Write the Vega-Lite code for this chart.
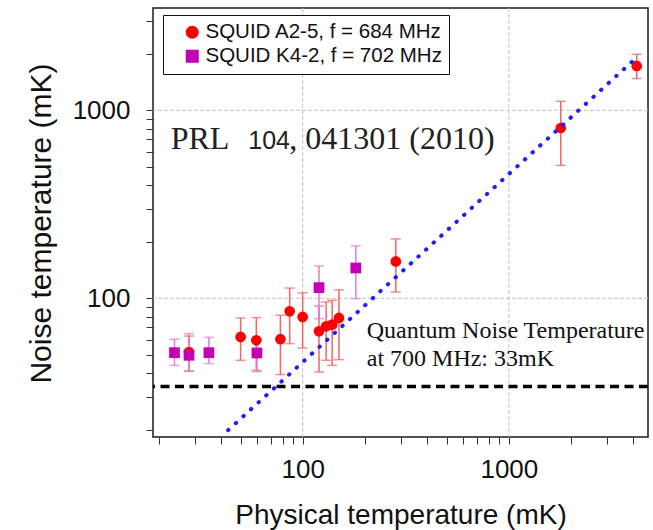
{
  "$schema": "https://vega.github.io/schema/vega-lite/v6.json",
  "width": 495,
  "height": 429,
  "autosize": {"type": "none"},
  "padding": {"left": 153, "top": 8, "right": 5, "bottom": 93},
  "background": "white",
  "config": {
    "view": {"stroke": "#1a1a1a", "strokeWidth": 1.5},
    "font": "Liberation Sans"
  },
  "datasets": {
    "pts": [
      {"series": "SQUID A2-5, f = 684 MHz", "x": 28.1, "y": 51.8, "lo": 41, "hi": 63},
      {"series": "SQUID A2-5, f = 684 MHz", "x": 50, "y": 62.3, "lo": 46.8, "hi": 78.6},
      {"series": "SQUID A2-5, f = 684 MHz", "x": 59.6, "y": 59.8, "lo": 41.4, "hi": 79},
      {"series": "SQUID A2-5, f = 684 MHz", "x": 78, "y": 60.6, "lo": 39.3, "hi": 81.2},
      {"series": "SQUID A2-5, f = 684 MHz", "x": 86.5, "y": 85.3, "lo": 57.4, "hi": 113.4},
      {"series": "SQUID A2-5, f = 684 MHz", "x": 100, "y": 79.6, "lo": 54.4, "hi": 107},
      {"series": "SQUID A2-5, f = 684 MHz", "x": 120, "y": 66.8, "lo": 40.6, "hi": 91},
      {"series": "SQUID A2-5, f = 684 MHz", "x": 130, "y": 71, "lo": 46.8, "hi": 95.6},
      {"series": "SQUID A2-5, f = 684 MHz", "x": 139, "y": 72.5, "lo": 44, "hi": 97.6},
      {"series": "SQUID A2-5, f = 684 MHz", "x": 150, "y": 78.6, "lo": 47.2, "hi": 111},
      {"series": "SQUID A2-5, f = 684 MHz", "x": 283, "y": 157, "lo": 108, "hi": 207},
      {"series": "SQUID A2-5, f = 684 MHz", "x": 1786, "y": 805, "lo": 509, "hi": 1116},
      {"series": "SQUID A2-5, f = 684 MHz", "x": 4170, "y": 1721, "lo": 1476, "hi": 1986},
      {"series": "SQUID K4-2, f = 702 MHz", "x": 23.9, "y": 51.4, "lo": 44, "hi": 60.6},
      {"series": "SQUID K4-2, f = 702 MHz", "x": 28.1, "y": 49.8, "lo": 41.1, "hi": 64.9},
      {"series": "SQUID K4-2, f = 702 MHz", "x": 35.1, "y": 51.4, "lo": 45, "hi": 62},
      {"series": "SQUID K4-2, f = 702 MHz", "x": 60, "y": 51.2, "lo": 40.7, "hi": 60.6},
      {"series": "SQUID K4-2, f = 702 MHz", "x": 120, "y": 114, "lo": 78, "hi": 148.5},
      {"series": "SQUID K4-2, f = 702 MHz", "x": 181, "y": 145, "lo": 99.6, "hi": 190}
    ],
    "qline": [
      {"x": 43.5, "y": 19.9},
      {"x": 3950, "y": 1810}
    ],
    "noise": [
      {"y": 34}
    ],
    "gridx": [{"x": 100}, {"x": 1000}],
    "gridy": [{"y": 100}, {"y": 1000}],
    "notes": [
      {"part": "serif", "text": "PRL", "x": 22.9, "y": 620},
      {"part": "sans", "text": "104", "x": 54.5, "y": 620},
      {"part": "serif", "text": ", 041301 (2010)", "x": 86.2, "y": 620},
      {"part": "quantum", "text": "Quantum Noise Temperature", "x": 204.5, "y": 61.3},
      {"part": "quantum", "text": "at 700 MHz: 33mK", "x": 204.5, "y": 43.5}
    ]
  },
  "layer": [
    {
      "data": {"name": "gridx"},
      "mark": {"type": "rule", "color": "#c4c4c4", "strokeWidth": 1, "strokeDash": [4, 2]},
      "encoding": {
        "x": {"field": "x", "type": "quantitative", "scale": {"type": "log", "domain": [18.8, 4730]}, "title": "Physical temperature (mK)"}
      }
    },
    {
      "data": {"name": "gridy"},
      "mark": {"type": "rule", "color": "#c4c4c4", "strokeWidth": 1, "strokeDash": [4, 2]},
      "encoding": {
        "y": {"field": "y", "type": "quantitative", "scale": {"type": "log", "domain": [18.3, 3500]}, "title": "Noise temperature (mK)"}
      }
    },
    {
      "data": {"name": "noise"},
      "mark": {"type": "rule", "color": "#000000", "strokeWidth": 3.5, "strokeDash": [9, 5.5]},
      "encoding": {
        "y": {"field": "y", "type": "quantitative", "scale": {"type": "log", "domain": [18.3, 3500]}, "title": "Noise temperature (mK)"}
      }
    },
    {
      "data": {"name": "pts"},
      "transform": [{"filter": "datum.series == 'SQUID A2-5, f = 684 MHz'"}],
      "mark": {"type": "errorbar", "color": "#f06464", "thickness": 1.5, "ticks": {"size": 10, "color": "#f06464"}},
      "encoding": {
        "x": {"field": "x", "type": "quantitative", "scale": {"type": "log", "domain": [18.8, 4730]}, "title": "Physical temperature (mK)"},
        "y": {"field": "lo", "type": "quantitative", "scale": {"type": "log", "domain": [18.3, 3500]}, "title": "Noise temperature (mK)"},
        "y2": {"field": "hi"}
      }
    },
    {
      "data": {"name": "pts"},
      "transform": [{"filter": "datum.series == 'SQUID K4-2, f = 702 MHz'"}],
      "mark": {"type": "errorbar", "color": "#e27ad6", "thickness": 1.5, "ticks": {"size": 10, "color": "#e27ad6"}},
      "encoding": {
        "x": {"field": "x", "type": "quantitative", "scale": {"type": "log", "domain": [18.8, 4730]}, "title": "Physical temperature (mK)"},
        "y": {"field": "lo", "type": "quantitative", "scale": {"type": "log", "domain": [18.3, 3500]}, "title": "Noise temperature (mK)"},
        "y2": {"field": "hi"}
      }
    },
    {
      "data": {"name": "pts"},
      "mark": {"type": "point", "filled": true, "size": 115, "opacity": 1},
      "encoding": {
        "x": {
          "field": "x", "type": "quantitative",
          "scale": {"type": "log", "domain": [18.8, 4730]},
          "title": "Physical temperature (mK)",
          "axis": {
            "title": "Physical temperature (mK)",
            "titleFont": "Liberation Sans", "titleFontSize": 28, "titleFontWeight": "normal", "titleColor": "#111111",
            "titleBaseline": "alphabetic", "titleY": 86,
            "values": [20, 30, 40, 50, 60, 70, 80, 90, 100, 200, 300, 400, 500, 600, 700, 800, 900, 1000, 2000, 3000, 4000],
            "labelExpr": "datum.value == 100 || datum.value == 1000 ? format(datum.value, 'd') : ''",
            "labelFont": "Liberation Sans", "labelFontSize": 26, "labelColor": "#111111", "labelPadding": 12,
            "labelFlush": false, "labelOverlap": false,
            "domain": false, "grid": false,
            "ticks": true, "tickColor": "#333333", "tickWidth": 1, "tickSize": 7
          }
        },
        "y": {
          "field": "y", "type": "quantitative",
          "scale": {"type": "log", "domain": [18.3, 3500]},
          "title": "Noise temperature (mK)",
          "axis": {
            "title": "Noise temperature (mK)",
            "titleFont": "Liberation Sans", "titleFontSize": 30, "titleFontWeight": "normal", "titleColor": "#111111",
            "titleBaseline": "alphabetic", "titleX": -103, "titleY": 215, "titleAngle": -90,
            "values": [20, 30, 40, 50, 60, 70, 80, 90, 100, 200, 300, 400, 500, 600, 700, 800, 900, 1000, 2000, 3000],
            "labelExpr": "datum.value == 100 || datum.value == 1000 ? format(datum.value, 'd') : ''",
            "labelFont": "Liberation Sans", "labelFontSize": 26, "labelColor": "#111111", "labelPadding": 16,
            "labelFlush": false, "labelOverlap": false,
            "domain": false, "grid": false,
            "ticks": true, "tickColor": "#333333", "tickWidth": 1, "tickSize": 7
          }
        },
        "color": {
          "field": "series", "type": "nominal",
          "scale": {"domain": ["SQUID A2-5, f = 684 MHz", "SQUID K4-2, f = 702 MHz"], "range": ["#ff0000", "#c400b4"]},
          "legend": {
            "title": null, "orient": "none", "legendX": 10, "legendY": 7,
            "padding": 7, "symbolOffset": 12, "rowPadding": 3, "labelOffset": 3,
            "labelFont": "Liberation Sans", "labelFontSize": 20.5, "labelColor": "#111111", "labelLimit": 0,
            "symbolSize": 170, "symbolStrokeWidth": 0,
            "fillColor": "white", "strokeColor": "#111111", "cornerRadius": 0
          }
        },
        "shape": {
          "field": "series", "type": "nominal",
          "scale": {"domain": ["SQUID A2-5, f = 684 MHz", "SQUID K4-2, f = 702 MHz"], "range": ["circle", "square"]},
          "legend": {
            "title": null, "orient": "none", "legendX": 10, "legendY": 7,
            "padding": 7, "symbolOffset": 12, "rowPadding": 3, "labelOffset": 3,
            "labelFont": "Liberation Sans", "labelFontSize": 20.5, "labelColor": "#111111", "labelLimit": 0,
            "symbolSize": 170, "symbolStrokeWidth": 0,
            "fillColor": "white", "strokeColor": "#111111", "cornerRadius": 0
          }
        }
      }
    },
    {
      "data": {"name": "qline"},
      "mark": {"type": "line", "color": "#1e1eff", "strokeWidth": 4, "strokeDash": [0.5, 9.8], "strokeCap": "round"},
      "encoding": {
        "x": {"field": "x", "type": "quantitative", "scale": {"type": "log", "domain": [18.8, 4730]}, "title": "Physical temperature (mK)"},
        "y": {"field": "y", "type": "quantitative", "scale": {"type": "log", "domain": [18.3, 3500]}, "title": "Noise temperature (mK)"}
      }
    },
    {
      "data": {"name": "notes"},
      "transform": [{"filter": "datum.part == 'serif'"}],
      "mark": {"type": "text", "font": "Liberation Serif", "fontSize": 32, "align": "left", "baseline": "alphabetic", "color": "#222222"},
      "encoding": {
        "x": {"field": "x", "type": "quantitative", "scale": {"type": "log", "domain": [18.8, 4730]}, "title": "Physical temperature (mK)"},
        "y": {"field": "y", "type": "quantitative", "scale": {"type": "log", "domain": [18.3, 3500]}, "title": "Noise temperature (mK)"},
        "text": {"field": "text"}
      }
    },
    {
      "data": {"name": "notes"},
      "transform": [{"filter": "datum.part == 'sans'"}],
      "mark": {"type": "text", "font": "Liberation Sans", "fontSize": 25, "align": "left", "baseline": "alphabetic", "color": "#222222"},
      "encoding": {
        "x": {"field": "x", "type": "quantitative", "scale": {"type": "log", "domain": [18.8, 4730]}, "title": "Physical temperature (mK)"},
        "y": {"field": "y", "type": "quantitative", "scale": {"type": "log", "domain": [18.3, 3500]}, "title": "Noise temperature (mK)"},
        "text": {"field": "text"}
      }
    },
    {
      "data": {"name": "notes"},
      "transform": [{"filter": "datum.part == 'quantum'"}],
      "mark": {"type": "text", "font": "Liberation Serif", "fontSize": 24, "align": "left", "baseline": "alphabetic", "color": "#111111"},
      "encoding": {
        "x": {"field": "x", "type": "quantitative", "scale": {"type": "log", "domain": [18.8, 4730]}, "title": "Physical temperature (mK)"},
        "y": {"field": "y", "type": "quantitative", "scale": {"type": "log", "domain": [18.3, 3500]}, "title": "Noise temperature (mK)"},
        "text": {"field": "text"}
      }
    }
  ]
}
